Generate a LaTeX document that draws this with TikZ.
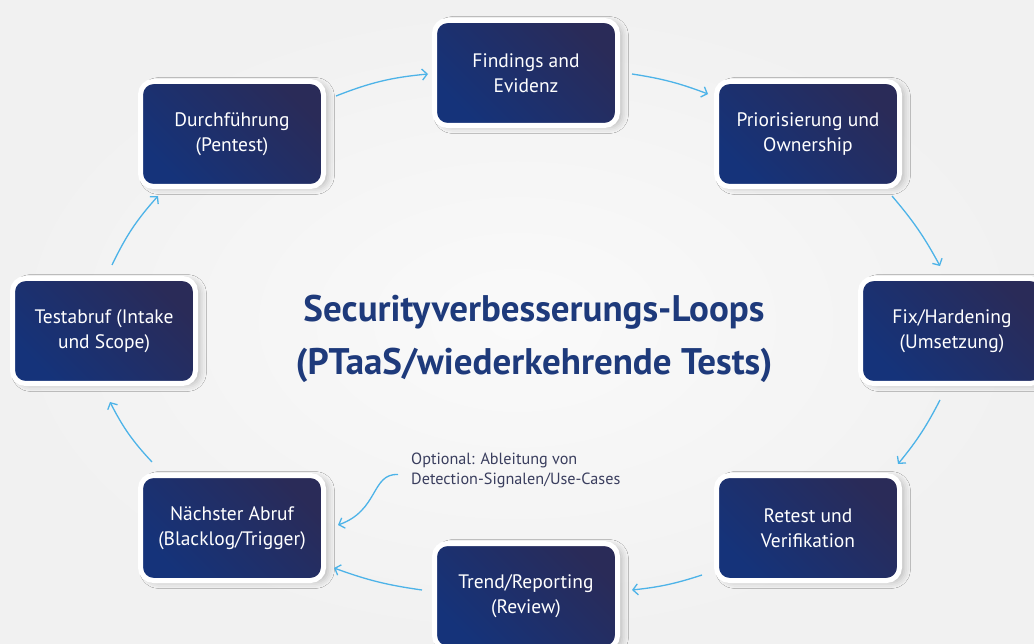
\documentclass[tikz,border=0pt]{standalone}
\usepackage{fontspec}
\setmainfont{PT Sans}
\usetikzlibrary{arrows.meta,shadows.blur}
\definecolor{bgout}{HTML}{F1F1F1}
\definecolor{bgin}{HTML}{FAFAFA}
\definecolor{boxa}{HTML}{15337A}
\definecolor{boxb}{HTML}{2A2B58}
\definecolor{arrowc}{HTML}{4DB3E8}
\definecolor{titlec}{HTML}{1E3A7B}
\definecolor{notec}{HTML}{3A3E5E}
\tikzset{
  stepbox/.style={
    rounded corners=13pt, draw=white, line width=5pt,
    bottom color=boxa, top color=boxb, shading angle=-45,
    minimum width=183pt, minimum height=105pt,
    text=white, align=center, font=\fontsize{19.5pt}{25pt}\selectfont,
    blur shadow={shadow xshift=5pt, shadow yshift=-2pt, shadow blur radius=6pt, shadow opacity=22}
  },
  arr/.style={draw=arrowc, line width=1.3pt, -{Straight Barb[length=5pt,width=11pt]}}
}
\begin{document}
\begin{tikzpicture}[x=1pt,y=-1pt]
\useasboundingbox (0,0) rectangle (1034,644);
\fill[inner color=bgin, outer color=bgout] (0,0) rectangle (1034,644);

\node[stepbox] (find) at (526,73) {Findings and\\Evidenz};
\node[stepbox] (dur) at (232,134) {Durchführung\\(Pentest)};
\node[stepbox] (prio) at (808,134) {Priorisierung und\\Ownership};
\node[stepbox] (test) at (104,331) {Testabruf (Intake\\und Scope)};
\node[stepbox] (fix) at (952,331) {Fix/Hardening\\(Umsetzung)};
\node[stepbox] (naech) at (232,528) {Nächster Abruf\\(Blacklog/Trigger)};
\node[stepbox] (retest) at (808,528) {Retest und\\Verifikation};
\node[stepbox] (trend) at (526,596) {Trend/Reporting\\(Review)};

\node[text=titlec, align=center, font=\fontsize{37pt}{53pt}\bfseries\selectfont] (title) at (534,339)
  {Securityverbesserungs-Loops\\(PTaaS/wiederkehrende Tests)};

\node[anchor=north west, inner sep=0pt, text=notec, align=left, font=\fontsize{16.2pt}{19.5pt}\selectfont] (note) at (411,453)
  {Optional: Ableitung von\\Detection-Signalen/Use-Cases};

\draw[arr] ([shift={(104,-38)}]dur.center) to[bend left=8] ([shift={(-98,1)}]find.center);
\draw[arr] ([shift={(106,1)}]find.center) to[bend left=6] ([shift={(-100,-40)}]prio.center);
\draw[arr] ([shift={(84,62)}]prio.center) to[bend left=6] ([shift={(-12,-65)}]fix.center);
\draw[arr] ([shift={(-12,69)}]fix.center) to[bend left=6] ([shift={(90,-64)}]retest.center);
\draw[arr] ([shift={(-106,47)}]retest.center) to[bend left=6] ([shift={(106,-6)}]trend.center);
\draw[arr] ([shift={(-104,-6)}]trend.center) to[bend left=6] ([shift={(102,40)}]naech.center);
\draw[arr] ([shift={(-80,-66)}]naech.center) to[bend left=8] ([shift={(6,71)}]test.center);
\draw[arr] ([shift={(8,-66)}]test.center) to[bend left=8] ([shift={(-74,62)}]dur.center);

\draw[arr] ([shift={(-13,4)}]note.west) .. controls ([shift={(-40,3)}]note.west) and ([shift={(-32,40)}]note.west) .. ([shift={(106,-3)}]naech.center);
\end{tikzpicture}
\end{document}
